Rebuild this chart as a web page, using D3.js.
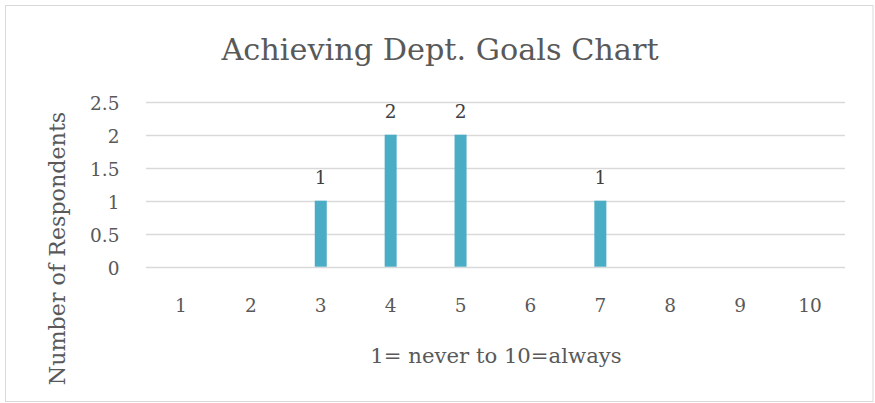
<!DOCTYPE html>
<html>
<head>
<meta charset="utf-8">
<script src="https://cdn.jsdelivr.net/npm/d3@7"></script>
<style>
html,body{margin:0;padding:0;background:#fff;}
svg{display:block;}
text{font-family:"DejaVu Serif",serif;}
</style>
</head>
<body>
<svg id="chart" width="875" height="403"></svg>
<script>
const categories = ["1","2","3","4","5","6","7","8","9","10"];
const values = [0,0,1,2,2,0,1,0,0,0];
const yTicks = [0,0.5,1,1.5,2,2.5];
const titleText = "Achieving Dept. Goals Chart";
const xTitle = "1= never to 10=always";
const yTitle = "Number of Respondents";

const svg = d3.select("#chart");
svg.append("rect").attr("x",5.5).attr("y",5.5).attr("width",867.5).attr("height",396)
  .attr("fill","#fff").attr("stroke","#d9d9d9").attr("stroke-width",1);

const x = d3.scaleBand().domain(categories).range([146,845]);
const y = d3.scaleLinear().domain([0,2.5]).range([266.7,101.7]);

// title
svg.append("text").attr("x",440).attr("y",60).attr("text-anchor","middle")
  .attr("font-size",30.3).attr("fill","#595959").text(titleText);

// gridlines
svg.append("g").selectAll("line").data(yTicks).join("line")
  .attr("x1",146).attr("x2",845)
  .attr("y1",d=>Math.round(y(d))+0.5).attr("y2",d=>Math.round(y(d))+0.5)
  .attr("stroke","#d9d9d9").attr("stroke-width",1.3);

// y axis labels
const yAxis = d3.axisLeft(y).tickValues(yTicks).tickSize(0).tickPadding(0).tickFormat(d=>String(d));
const gy = svg.append("g").attr("transform","translate(119.5,0)").call(yAxis);
gy.select(".domain").remove();
gy.selectAll("text").attr("font-family","DejaVu Serif").attr("font-size",18.5).attr("fill","#595959")
  .attr("dy",null).attr("dominant-baseline","central").attr("y",1);

// x axis labels
const xAxis = d3.axisBottom(x).tickSize(0).tickPadding(0);
const gx = svg.append("g").attr("transform","translate(0,312)").call(xAxis);
gx.select(".domain").remove();
gx.selectAll("text").attr("font-family","DejaVu Serif").attr("font-size",18.5).attr("fill","#595959")
  .attr("dy",null).attr("y",0);

// bars
const bw = 12;
svg.append("g").selectAll("rect").data(categories.map((c,i)=>({c,v:values[i]})).filter(d=>d.v>0)).join("rect")
  .attr("x",d=>x(d.c)+x.bandwidth()/2-bw/2).attr("width",bw)
  .attr("y",d=>y(d.v)).attr("height",d=>y(0)-y(d.v))
  .attr("fill","#4bacc6");

// data labels
svg.append("g").selectAll("text").data(categories.map((c,i)=>({c,v:values[i]})).filter(d=>d.v>0)).join("text")
  .attr("x",d=>x(d.c)+x.bandwidth()/2).attr("y",d=>y(d.v)-16.5)
  .attr("text-anchor","middle").attr("font-size",18.5).attr("fill","#404040").text(d=>d.v);

// axis titles
svg.append("text").attr("x",496).attr("y",362.5).attr("text-anchor","middle")
  .attr("font-size",21.2).attr("fill","#595959").text(xTitle);
svg.append("text").attr("transform","translate(64.5,248.5) rotate(-90)").attr("text-anchor","middle")
  .attr("font-size",22.2).attr("fill","#595959").text(yTitle);
</script>
</body>
</html>
